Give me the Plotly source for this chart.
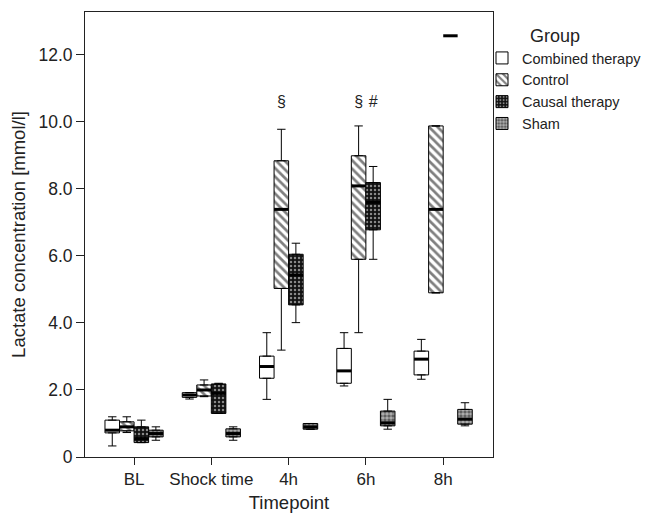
import plotly.graph_objects as go

timepoints = ["BL", "Shock time", "4h", "6h", "8h"]
groups = ["Combined therapy", "Control", "Causal therapy", "Sham"]

# Box statistics per group across timepoints (mmol/l)
combined_low = [0.33, 1.73, 1.72, 2.12, 2.32]
combined_q1 = [0.72, 1.78, 2.35, 2.20, 2.45]
combined_med = [0.80, 1.85, 2.70, 2.57, 2.92]
combined_q3 = [1.10, 1.92, 3.01, 3.24, 3.16]
combined_high = [1.20, 1.92, 3.71, 3.71, 3.51]

control_low = [0.73, 1.80, 3.19, 3.71, 4.90]
control_q1 = [0.78, 1.82, 5.03, 5.90, 4.90]
control_med = [0.90, 2.00, 7.39, 8.09, 7.39]
control_q3 = [1.05, 2.15, 8.84, 8.99, 9.88]
control_high = [1.20, 2.30, 9.78, 9.88, 9.88]

causal_low = [0.43, 1.30, 4.01, 5.90, None]
causal_q1 = [0.43, 1.30, 4.54, 6.78, None]
causal_med = [0.55, 1.90, 5.43, 7.60, 12.57]
causal_q3 = [0.90, 2.18, 6.05, 8.19, None]
causal_high = [1.10, 2.20, 6.38, 8.67, None]

sham_low = [0.50, 0.50, 0.83, 0.83, 0.93]
sham_q1 = [0.60, 0.60, 0.83, 0.93, 0.98]
sham_med = [0.70, 0.70, 0.90, 1.02, 1.13]
sham_q3 = [0.80, 0.84, 1.00, 1.37, 1.42]
sham_high = [0.90, 0.90, 1.00, 1.72, 1.62]

# significance markers
sig_control_x = ["4h", "6h"]
sig_control_text = ["§", "§"]
sig_control_y = [10.57, 10.57]
sig_causal_x = ["6h"]
sig_causal_text = ["#"]
sig_causal_y = [10.57]

stats = {
    "Combined therapy": (combined_low, combined_q1, combined_med, combined_q3, combined_high),
    "Control": (control_low, control_q1, control_med, control_q3, control_high),
    "Causal therapy": (causal_low, causal_q1, causal_med, causal_q3, causal_high),
    "Sham": (sham_low, sham_q1, sham_med, sham_q3, sham_high),
}

patterns = {
    "Combined therapy": dict(shape="", bgcolor="white", fgcolor="black"),
    "Control": dict(shape="\\", bgcolor="white", fgcolor="black", size=6, solidity=0.45),
    "Causal therapy": dict(shape=".", bgcolor="#111111", fgcolor="white", size=4, solidity=0.3),
    "Sham": dict(shape=".", bgcolor="#555555", fgcolor="white", size=4, solidity=0.65),
}

TXT = "#222222"
FONT = "Liberation Sans, Arial, Helvetica, sans-serif"

# page has an 8px body margin: the figure starts at (8, 8) in the window
W, H = 643, 505
PL, PR, PT, PB = 85, 493, 12, 457          # plot-area edges in window pixels
ML, MT = PL - 8, PT - 8
MR, MB = W - (PR - 8), H - (PB - 8)
PW, PH = PR - PL, PB - PT


def px_x(x):
    return (x - PL) / PW


def px_y(y):
    return 1 - (y - PT) / PH


fig = go.Figure()

# boxes as patterned bars
for i, g in enumerate(groups):
    low, q1, med, q3, high = stats[g]
    heights = [(b - a) if (a is not None and b is not None) else None for a, b in zip(q1, q3)]
    fig.add_trace(go.Bar(
        x=timepoints, y=heights, base=q1, name=g,
        offsetgroup=str(i), alignmentgroup="a",
        marker=dict(color="white", line=dict(color="black", width=1), pattern=patterns[g]),
        hoverinfo="skip",
    ))

# whiskers and medians
for i, g in enumerate(groups):
    low, q1, med, q3, high = stats[g]
    wx, wy = [], []
    for t, lo, a, b, hi in zip(timepoints, low, q1, q3, high):
        if lo is None:
            continue
        wx += [t, t, None, t, t, None]
        wy += [b, hi, None, a, lo, None]
    fig.add_trace(go.Scatter(
        x=wx, y=wy, mode="lines+markers", showlegend=False,
        offsetgroup=str(i), alignmentgroup="a",
        line=dict(color="black", width=1),
        marker=dict(symbol="line-ew", size=6, line=dict(color="black", width=1), color="black"),
        hoverinfo="skip",
    ))
    fig.add_trace(go.Scatter(
        x=timepoints, y=med, mode="markers", showlegend=False,
        offsetgroup=str(i), alignmentgroup="a",
        marker=dict(symbol="line-ew", size=10.3, line=dict(color="black", width=3), color="black"),
        hoverinfo="skip",
    ))

fig.add_trace(go.Scatter(
    x=sig_control_x, y=sig_control_y, text=sig_control_text, mode="text", showlegend=False,
    offsetgroup="1", alignmentgroup="a", textfont=dict(size=16, color=TXT, family=FONT),
    hoverinfo="skip",
))
fig.add_trace(go.Scatter(
    x=sig_causal_x, y=sig_causal_y, text=sig_causal_text, mode="text", showlegend=False,
    offsetgroup="2", alignmentgroup="a", textfont=dict(size=16, color=TXT, family=FONT),
    hoverinfo="skip",
))

fig.update_layout(
    width=W, height=H,
    margin=dict(l=ML, r=MR, t=MT, b=MB, autoexpand=False),
    paper_bgcolor="white", plot_bgcolor="white",
    barmode="group", bargap=0.247, bargroupgap=0,
    scattermode="group", scattergap=0.247,
    font=dict(family=FONT, color=TXT, size=17),
    showlegend=True,
    legend=dict(x=px_x(482), xanchor="left", y=px_y(42), yanchor="top",
                font=dict(size=14.5, color=TXT, family=FONT),
                bgcolor="rgba(0,0,0,0)", itemwidth=30, tracegroupgap=0),
    annotations=[dict(text="Group", x=px_x(555), y=px_y(36), xanchor="center", yanchor="middle",
                      xref="paper", yref="paper", showarrow=False,
                      font=dict(size=18, color=TXT, family=FONT))],
)

fig.update_xaxes(
    type="category", categoryorder="array", categoryarray=timepoints,
    range=[-0.635, 4.645], automargin=False,
    showline=True, linecolor="#222222", linewidth=1, mirror=True,
    ticks="outside", ticklen=7, tickcolor="#222222",
    showgrid=False, zeroline=False,
    title=dict(text="Timepoint", font=dict(size=18.5)),
    tickfont=dict(size=17),
)
fig.update_yaxes(
    range=[0, 13.28], automargin=False,
    tickvals=[0, 2, 4, 6, 8, 10, 12],
    ticktext=["0", "2.0", "4.0", "6.0", "8.0", "10.0", "12.0"],
    showline=True, linecolor="#222222", linewidth=1, mirror=True,
    ticks="outside", ticklen=8, tickcolor="#222222",
    showgrid=False, zeroline=False,
    title=dict(text="Lactate concentration [mmol/l]", font=dict(size=18.5), standoff=8),
    tickfont=dict(size=17.5),
)

fig.write_html("out.html")
